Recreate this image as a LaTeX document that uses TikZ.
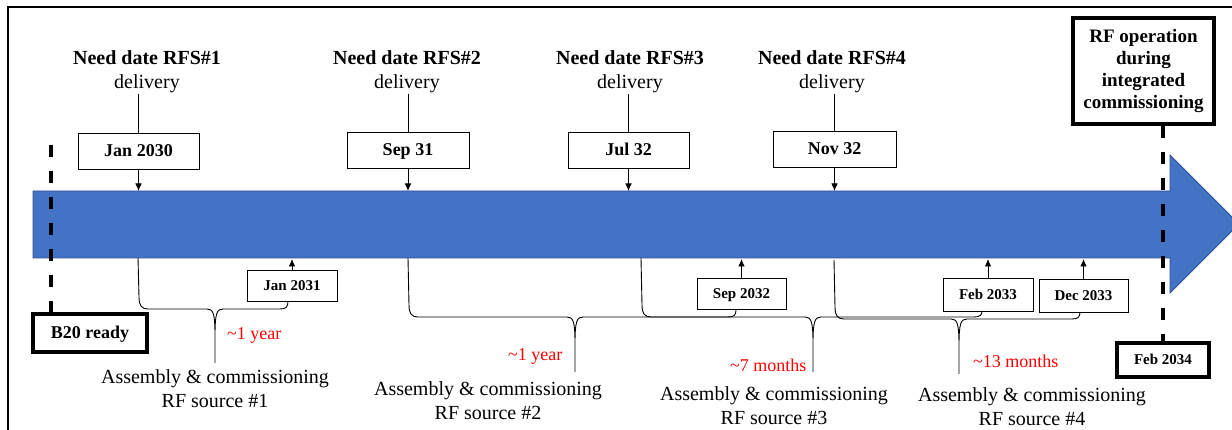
\documentclass[tikz,border=0pt]{standalone}
\usepackage{fontspec}
\setmainfont{Liberation Serif}
\usetikzlibrary{arrows.meta}
\definecolor{barblue}{HTML}{4472C4}
\definecolor{barline}{HTML}{2F528F}
\definecolor{redtxt}{HTML}{FF0000}
\newcommand\mybrace[7]{%
  \draw[bracestyle] (#1,#2) -- ({#1+1},{#3-12})
    .. controls ({#1+1},{#3-3}) and ({#1+4},{#3}) .. ({#1+10},{#3})
    -- ({#4-8},{#3})
    .. controls ({#4-2},{#3}) and ({#4},{#3+4}) .. ({#4},{#3+26})
    -- (#4,#5)
    (#4,{#3+26})
    .. controls ({#4},{#3+4}) and ({#4+2},{#3}) .. ({#4+8},{#3})
    -- ({#6-8},{#3})
    .. controls ({#6-2},{#3}) and ({#6},{#3-2}) .. (#6,#7);}
\begin{document}
\begin{tikzpicture}[x=1pt,y=-1pt,
  datebox/.style={draw=black, line width=0.9pt, fill=white, inner sep=0pt,
    text height=12pt, text depth=0pt, minimum height=36pt,
    font=\fontsize{18}{20}\selectfont\bfseries},
  smallbox/.style={draw=black, line width=0.9pt, fill=white, inner sep=0pt,
    text height=10pt, text depth=0pt,
    font=\fontsize{15}{17}\selectfont\bfseries},
  thickbox/.style={draw=black, line width=3.5pt, fill=white, inner sep=0pt},
  headtxt/.style={anchor=base, inner sep=0pt, font=\fontsize{20}{24}\selectfont\bfseries},
  subtxt/.style={anchor=base, inner sep=0pt, font=\fontsize{20}{24}\selectfont},
  bottxt/.style={anchor=base, inner sep=0pt, align=center, font=\fontsize{20}{24}\selectfont},
  redlbl/.style={anchor=base west, inner sep=0pt, text=redtxt, font=\fontsize{18}{20}\selectfont},
  conn/.style={line width=0.9pt},
  arr/.style={line width=0.9pt, -{Latex[length=7.5pt,width=6.5pt]}},
  bracestyle/.style={line width=0.9pt, line join=round},
  milestone/.style={line width=3.4pt, dash pattern=on 12pt off 14pt},
]
\useasboundingbox (0,0) rectangle (1232,430);
\begin{scope}
\clip (0,0) rectangle (1232,430);
% frame
\draw[line width=2pt] (8,430) -- (8,7) -- (1240,7);
% blue timeline arrow
\fill[barblue, draw=barline, line width=0.8pt]
  (33,191) -- (1170,191) -- (1170,155) -- (1239,224) -- (1170,293)
  -- (1170,258) -- (33,258) -- cycle;
\end{scope}
\coordinate (bartop) at (0,191);
\coordinate (barbot) at (0,259);

% headers
\foreach \nm/\xx/\lbl in {1/147/1, 2/407/2, 3/630/3, 4/832/4}{
  \node[headtxt] (head\nm) at (\xx,65) {Need date RFS\#\lbl};
  \node[subtxt] (del\nm) at (\xx,89) {delivery};
}

% top date boxes
\node[datebox, minimum width=121pt] (d1) at (138.5,151) {Jan 2030};
\node[datebox, minimum width=122pt] (d2) at (408,150) {Sep 31};
\node[datebox, minimum width=121pt] (d3) at (628.5,150) {Jul 32};
\node[datebox, minimum width=123pt] (d4) at (834.5,149) {Nov 32};

\foreach \i in {1,2,3,4}{
  \draw[conn] (d\i.north) -- (d\i.north |- del\i.south);
  \draw[arr] (d\i.south) -- (d\i.south |- bartop);
}

% bottom date boxes
\node[smallbox, minimum width=90pt, minimum height=31pt] (s1) at (292,285.5) {Jan 2031};
\node[smallbox, minimum width=89pt, minimum height=31pt] (s2) at (741.5,293.5) {Sep 2032};
\node[smallbox, minimum width=90pt, minimum height=33pt] (s3) at (988,294.5) {Feb 2033};
\node[smallbox, minimum width=89pt, minimum height=33pt] (s4) at (1083.5,295.5) {Dec 2033};
\foreach \i in {1,2,3,4}{
  \draw[arr] (s\i.north) -- (s\i.north |- barbot);
}

% milestones
\node[thickbox, minimum width=114pt, minimum height=38pt, text height=12pt, text depth=0pt,
  font=\fontsize{18}{20}\selectfont\bfseries] (b20) at (90,333) {B20 ready};
\node[thickbox, minimum width=141pt, minimum height=106pt, align=center,
  font=\fontsize{19}{22}\selectfont\bfseries] (rfop) at (1143.5,71)
  {RF operation\\during\\integrated\\commissioning};
\node[thickbox, minimum width=92pt, minimum height=34pt, text height=8pt, text depth=0pt,
  font=\fontsize{15}{17}\selectfont\bfseries] (f34) at (1163,360) {Feb 2034};
\coordinate (b20top) at (51,145);
\draw[milestone] (b20top) -- (b20top |- b20.north);
\draw[milestone] (f34.north |- rfop.south) -- (f34.north);

% braces
\mybrace{138}{258}{309}{215}{363}{288}{301}
\mybrace{408}{258}{317}{575}{372}{736}{310}
\mybrace{641}{258}{317}{813}{372}{982}{311}
\mybrace{834}{260}{319}{959}{374}{1080}{312}

% duration labels
\node[redlbl] (r1) at (227,340) {\textasciitilde1 year};
\node[redlbl] (r2) at (508,360) {\textasciitilde1 year};
\node[redlbl] (r3) at (730,371) {\textasciitilde7 months};
\node[redlbl] (r4) at (973,367) {\textasciitilde13 months};

% descriptions (base anchor = last line baseline)
\node[bottxt] (a1) at (215,407) {Assembly \& commissioning\\RF source \#1};
\node[bottxt] (a2) at (488,419) {Assembly \& commissioning\\RF source \#2};
\node[bottxt] (a3) at (774,424) {Assembly \& commissioning\\RF source \#3};
\node[bottxt] (a4) at (1032,425) {Assembly \& commissioning\\RF source \#4};
\end{tikzpicture}
\end{document}
